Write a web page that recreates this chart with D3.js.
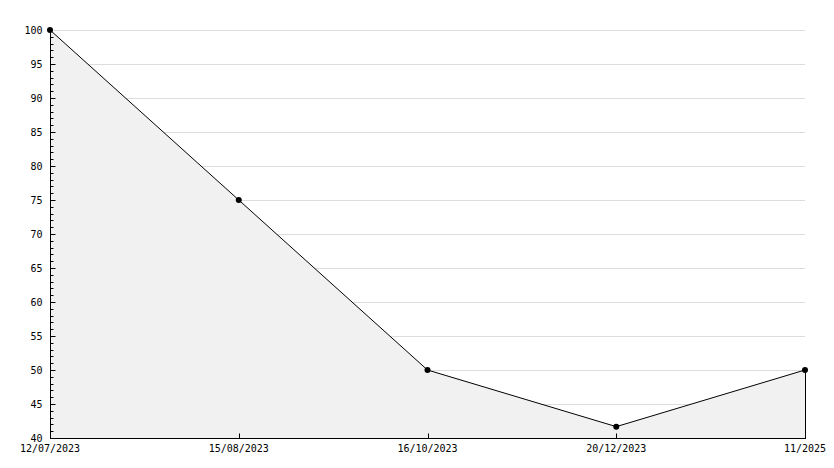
<!DOCTYPE html>
<html>
<head>
<meta charset="utf-8">
<script src="https://cdnjs.cloudflare.com/ajax/libs/d3/7.8.5/d3.min.js"></script>
<style>
  html, body { margin: 0; padding: 0; background: #fff; }
  text { font-family: "DejaVu Sans Mono", monospace; font-size: 10px; fill: #000; }
</style>
</head>
<body>
<div id="chart"></div>
<script>
const dates = ["12/07/2023", "15/08/2023", "16/10/2023", "20/12/2023", "11/2025"];
const values = [100, 75, 50, 41.67, 50];
const yTicks = [40, 45, 50, 55, 60, 65, 70, 75, 80, 85, 90, 95, 100];

const width = 834;
const height = 468;
const margin = { top: 30, right: 29, bottom: 30, left: 50 };

const svg = d3
  .select("#chart")
  .append("svg")
  .attr("width", width)
  .attr("height", height);

const xScale = d3
  .scalePoint()
  .domain(dates)
  .range([margin.left, width - margin.right]);

const yScale = d3
  .scaleLinear()
  .domain([40, 100])
  .range([height - margin.bottom, margin.top]);

// horizontal grid lines
svg
  .append("g")
  .selectAll("line")
  .data(yTicks.filter((d) => d > 40))
  .enter()
  .append("line")
  .attr("x1", margin.left)
  .attr("x2", width - margin.right)
  .attr("y1", (d) => Math.round(yScale(d)) + 0.5)
  .attr("y2", (d) => Math.round(yScale(d)) + 0.5)
  .style("stroke", "#dddddd")
  .style("stroke-width", "1px");

const data = dates.map((d, i) => ({ date: d, value: values[i] }));

// filled area under the line
const area = d3
  .area()
  .x((d) => xScale(d.date))
  .y0(yScale(40))
  .y1((d) => yScale(d.value));

svg
  .append("path")
  .datum(data)
  .attr("d", area)
  .attr("fill", "#f1f1f1");

// right edge of the area
const last = data[data.length - 1];
svg
  .append("line")
  .attr("x1", Math.round(xScale(last.date)) + 0.5)
  .attr("x2", Math.round(xScale(last.date)) + 0.5)
  .attr("y1", yScale(last.value))
  .attr("y2", yScale(40))
  .style("stroke", "#000")
  .style("stroke-width", "1px");

// line
const line = d3
  .line()
  .x((d) => xScale(d.date))
  .y((d) => yScale(d.value));

svg
  .append("path")
  .datum(data)
  .attr("d", line)
  .attr("fill", "none")
  .style("stroke", "#000")
  .style("stroke-width", "1px");

// y axis, ticks pointing inside, minor ticks every 1
const yAxis = svg
  .append("g")
  .attr("transform", `translate(${margin.left + 0.5}, 0)`);

yAxis
  .append("line")
  .attr("x1", 0)
  .attr("x2", 0)
  .attr("y1", yScale(100))
  .attr("y2", yScale(40))
  .style("stroke", "#000");

yAxis
  .selectAll(".minor")
  .data(d3.range(41, 100))
  .enter()
  .append("line")
  .attr("x1", 0)
  .attr("x2", (d) => (d % 5 === 0 ? 5 : 3))
  .attr("y1", (d) => Math.round(yScale(d)) + 0.5)
  .attr("y2", (d) => Math.round(yScale(d)) + 0.5)
  .style("stroke", "#000");

yAxis
  .selectAll("text")
  .data(yTicks)
  .enter()
  .append("text")
  .attr("x", -8)
  .attr("y", (d) => yScale(d))
  .attr("dy", "0.35em")
  .attr("text-anchor", "end")
  .text((d) => d);

// x axis
const xAxis = svg
  .append("g")
  .attr("transform", `translate(0, ${Math.round(yScale(40)) + 0.5})`);

xAxis
  .append("line")
  .attr("x1", margin.left)
  .attr("x2", width - margin.right + 1)
  .attr("y1", 0)
  .attr("y2", 0)
  .style("stroke", "#000");

xAxis
  .selectAll(".tick")
  .data(dates.slice(1, -1))
  .enter()
  .append("line")
  .attr("x1", (d) => Math.round(xScale(d)) + 0.5)
  .attr("x2", (d) => Math.round(xScale(d)) + 0.5)
  .attr("y1", 0)
  .attr("y2", -5)
  .style("stroke", "#000");

xAxis
  .selectAll("text")
  .data(dates)
  .enter()
  .append("text")
  .attr("x", (d) => xScale(d))
  .attr("y", 13)
  .attr("text-anchor", "middle")
  .text((d) => d);

// markers
svg
  .selectAll("circle")
  .data(data)
  .enter()
  .append("circle")
  .attr("cx", (d) => xScale(d.date))
  .attr("cy", (d) => yScale(d.value))
  .attr("r", 3)
  .attr("fill", "#000");
</script>
</body>
</html>
